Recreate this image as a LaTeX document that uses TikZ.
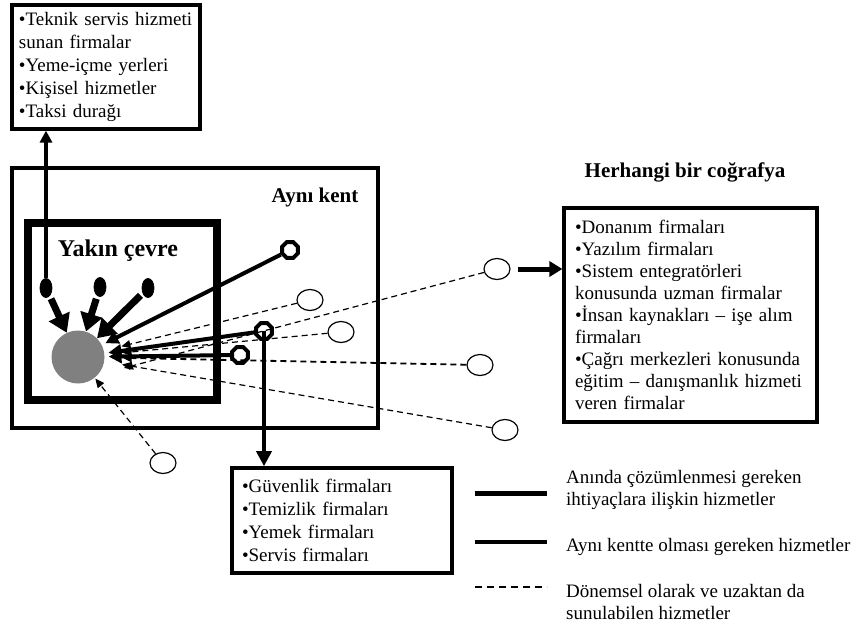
\documentclass[tikz,border=0pt]{standalone}
\usepackage{fontspec}
\setmainfont{Liberation Serif}
\usetikzlibrary{arrows.meta,shapes.geometric,calc}
\definecolor{coregray}{HTML}{808080}
\begin{document}
\begin{tikzpicture}[x=1pt,y=-1pt,
  txt/.style={font=\fontsize{19}{22}\selectfont},
  listbox/.style={draw, line width=3.2pt, align=left, inner ysep=0pt, txt},
  blackell/.style={ellipse, fill=black, draw=black, line width=0.8pt, minimum width=12pt, minimum height=19pt, inner sep=0pt},
  openell/.style={ellipse, fill=white, draw=black, line width=1.2pt, minimum width=26pt, minimum height=21pt, inner sep=0pt},
  octa/.style={regular polygon, regular polygon sides=8, draw=black, line width=4pt, minimum size=17pt, inner sep=0pt},
  bigarrow/.style={line width=7pt, -{Triangle[width=22pt,length=18pt]}},
  solidarrow/.style={line width=4pt, -{Triangle[width=13pt,length=13pt]}, shorten >=4pt},
  dasharrow/.style={line width=1.2pt, dash pattern=on 6pt off 4pt, -{Triangle[width=8pt,length=9pt]}},
  boxarrow/.style={line width=3.5pt, -{Triangle[width=15pt,length=15pt]}},
]
\useasboundingbox (0,0) rectangle (855,635);

% boxes
\node[listbox, font=\fontsize{19}{22.8}\selectfont, minimum width=188pt, minimum height=124pt, text width=174pt, inner xsep=7pt] (topbox) at (106,67)
 {•Teknik servis hizmeti\\sunan firmalar\\•Yeme-içme yerleri\\•Kişisel hizmetler\\•Taksi durağı};
\node[draw, line width=4pt, minimum width=366pt, minimum height=260pt, inner sep=0pt] (city) at (195,298) {};
\node[draw, line width=7.5pt, minimum width=189pt, minimum height=177pt, inner sep=0pt] (near) at (122.5,311.5) {};
\node[listbox, minimum width=253pt, minimum height=214pt, text width=231pt, inner xsep=11pt] (rbox) at (690.5,315)
 {•Donanım firmaları\\•Yazılım firmaları\\•Sistem entegratörleri\\konusunda uzman firmalar\\•İnsan kaynakları – işe alım\\firmaları\\•Çağrı merkezleri konusunda\\eğitim – danışmanlık hizmeti\\veren firmalar};
\node[listbox, font=\fontsize{19}{22.8}\selectfont, line width=3.6pt, minimum width=220pt, minimum height=105pt, text width=200pt, inner xsep=10pt] (bbox) at (342,520.5)
 {•Güvenlik firmaları\\•Temizlik firmaları\\•Yemek firmaları\\•Servis firmaları};

% titles
\node[anchor=base, inner sep=0pt, font=\fontsize{21}{24}\selectfont\bfseries] (citylbl) at (315,202) {Aynı kent};
\node[anchor=base, inner sep=0pt, font=\fontsize{24}{28}\selectfont\bfseries] (nearlbl) at (118,256) {Yakın çevre};
\node[anchor=base, inner sep=0pt, font=\fontsize{21}{24}\selectfont\bfseries] (geolbl) at (685,177) {Herhangi bir coğrafya};

% core
\node[circle, fill=coregray, minimum size=53pt, inner sep=0pt] (core) at (78,357) {};

% filled ellipses
\node[blackell] (f1) at (46,288) {};
\node[blackell] (f2) at (100,287) {};
\node[blackell] (f3) at (148,288) {};

% open ellipses
\node[openell] (e1) at (497,269) {};
\node[openell] (e2) at (310,300) {};
\node[openell] (e3) at (341,332) {};
\node[openell] (e4) at (480,365) {};
\node[openell] (e5) at (505,430) {};
\node[openell] (e6) at (163,463) {};

% octagons
\node[octa] (o1) at (290,250) {};
\node[octa] (o2) at (264,331) {};
\node[octa] (o3) at (240,355) {};

% end point of the dashed line that runs through the middle octagon
\coordinate (t1) at (124,368);

% dashed connectors
\draw[dasharrow] (e1) -- (t1);
\draw[dasharrow, shorten >=18pt] (e2) -- (core);
\draw[dasharrow, shorten >=18pt] (e3) -- (core);
\draw[dasharrow, line width=1.8pt, shorten >=18pt] (e4) -- (core);
\draw[dasharrow, shorten >=18pt] (e5) -- (core);
\draw[dasharrow, shorten >=1pt] (e6) -- (core);

% solid connectors
\draw[solidarrow] (o1) -- (core);
\draw[solidarrow] (o2) -- (core);
\draw[solidarrow] (o3) -- (core);

% big arrows
\draw[bigarrow, shorten <=3pt] (f1) -- (core);
\draw[bigarrow, shorten <=3pt] (f2) -- (core);
\draw[bigarrow, shorten <=3pt] (f3) -- (core);

% arrows to boxes
\draw[line width=3.2pt, -{Triangle[width=12pt,length=12pt]}] (f1.north) -- (f1.north |- topbox.south);
\draw[boxarrow] (o2.center) -- (o2.center |- bbox.north);
\draw[line width=5pt, -{Triangle[width=15pt,length=13pt]}, shorten <=7pt] (e1.east) -- (e1.east -| rbox.west);

% legend
\coordinate (l1a) at (475,493); \coordinate (l1b) at (547,493);
\coordinate (l2a) at (475,542); \coordinate (l2b) at (547,542);
\coordinate (l3a) at (475,587); \coordinate (l3b) at (547,587);
\draw[line width=5pt] (l1a) -- (l1b);
\draw[line width=4pt] (l2a) -- (l2b);
\draw[line width=1.4pt, dash pattern=on 7pt off 5pt] (l3a) -- (l3b);
\node[anchor=west, align=left, inner sep=0pt, txt] (lt1) at (566,489.5) {Anında çözümlenmesi gereken\\ihtiyaçlara ilişkin hizmetler};
\node[anchor=base west, inner sep=0pt, txt] (lt2) at (566,551) {Aynı kentte olması gereken hizmetler};
\node[anchor=west, align=left, inner sep=0pt, txt] (lt3) at (566,602) {Dönemsel olarak ve uzaktan da\\sunulabilen hizmetler};
\end{tikzpicture}
\end{document}
